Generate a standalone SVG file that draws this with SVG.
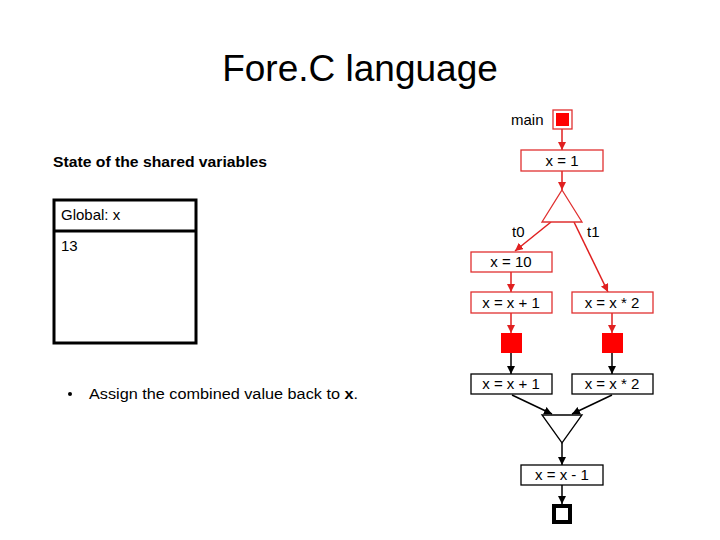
<svg xmlns="http://www.w3.org/2000/svg" width="720" height="540" viewBox="0 0 720 540">
<defs>
<marker id="ar" viewBox="0 0 10 10" refX="10" refY="5" markerWidth="8" markerHeight="8" markerUnits="userSpaceOnUse" orient="auto"><path d="M0,0 L10,5 L0,10 z" fill="#e02020"/></marker>
<marker id="ab" viewBox="0 0 10 10" refX="10" refY="5" markerWidth="8" markerHeight="8" markerUnits="userSpaceOnUse" orient="auto"><path d="M0,0 L10,5 L0,10 z" fill="#000"/></marker>
<style>
.t{font-family:"Liberation Sans",Arial,sans-serif;fill:#000}
.rb{fill:#fff;stroke:#e03030;stroke-width:1.3}
.bb{fill:#fff;stroke:#000;stroke-width:1.3}
.lbl{font-family:"Liberation Sans",Arial,sans-serif;font-size:15px;fill:#000;text-anchor:middle}
.re{stroke:#e02020;stroke-width:1.5;fill:none}
.bl{stroke:#000;stroke-width:1.5;fill:none}
</style>
</defs>
<rect width="720" height="540" fill="#fff"/>
<text class="t" x="360" y="81" font-size="37" text-anchor="middle">Fore.C language</text>
<text class="t" x="53" y="167" font-size="15" font-weight="bold" textLength="214" lengthAdjust="spacingAndGlyphs">State of the shared variables</text>
<g id="state">
<rect x="54" y="200" width="142" height="143" fill="#fff" stroke="#000" stroke-width="3"/>
<line x1="54" y1="231" x2="196" y2="231" stroke="#000" stroke-width="3"/>
<text class="t" x="61" y="220" font-size="15">Global: x</text>
<text class="t" x="61" y="251" font-size="15">13</text>
</g>
<circle cx="70" cy="394" r="2" fill="#000"/>
<text class="t" x="89" y="399" font-size="15.5" textLength="269" lengthAdjust="spacingAndGlyphs">Assign the combined value back to <tspan font-weight="bold">x</tspan>.</text>

<g id="connectors">
<line class="re" x1="562" y1="129" x2="562" y2="150" marker-end="url(#ar)"/>
<line class="re" x1="562" y1="171" x2="562" y2="190" marker-end="url(#ar)"/>
<line class="re" x1="551" y1="222" x2="515" y2="251" marker-end="url(#ar)"/>
<line class="re" x1="574" y1="222" x2="608" y2="292" marker-end="url(#ar)"/>
<line class="re" x1="511" y1="272" x2="511" y2="292" marker-end="url(#ar)"/>
<line class="re" x1="511" y1="313" x2="511" y2="333" marker-end="url(#ar)"/>
<line class="re" x1="612" y1="313" x2="612" y2="333" marker-end="url(#ar)"/>
<line class="bl" x1="511" y1="353" x2="511" y2="374" marker-end="url(#ab)"/>
<line class="bl" x1="612" y1="353" x2="612" y2="374" marker-end="url(#ab)"/>
<line class="bl" x1="512" y1="395" x2="552" y2="414" marker-end="url(#ab)"/>
<line class="bl" x1="612" y1="395" x2="572" y2="414" marker-end="url(#ab)"/>
<line class="bl" x1="562" y1="443" x2="562" y2="465" marker-end="url(#ab)"/>
<line class="bl" x1="562" y1="485" x2="562" y2="504" marker-end="url(#ab)"/>
</g>

<g id="main">
<text class="t" x="511" y="125" font-size="15">main</text>
<rect x="553" y="110" width="19" height="19" fill="#fff" stroke="#e03030" stroke-width="1.3"/>
<rect x="556" y="113" width="13" height="13" fill="#ff0000"/>
</g>
<g id="x1"><rect class="rb" x="521" y="150" width="82" height="21"/><text class="lbl" x="562" y="166">x = 1</text></g>
<g id="fork"><polygon points="562,190 582,222 542,222" fill="#fff" stroke="#e03030" stroke-width="1.3"/>
<text class="t" x="512" y="237" font-size="15">t0</text><text class="t" x="587" y="237" font-size="15">t1</text></g>
<g id="x10"><rect class="rb" x="471" y="252" width="81" height="20"/><text class="lbl" x="511" y="267">x = 10</text></g>
<g id="xp1"><rect class="rb" x="471" y="292" width="81" height="21"/><text class="lbl" x="511" y="308">x = x + 1</text></g>
<g id="xm2"><rect class="rb" x="572" y="292" width="81" height="21"/><text class="lbl" x="612" y="308">x = x * 2</text></g>
<g id="sq0"><rect x="501" y="333" width="21" height="20" fill="#ff0000"/></g>
<g id="sq1"><rect x="602" y="333" width="21" height="20" fill="#ff0000"/></g>
<g id="xp1b"><rect class="bb" x="471" y="374" width="81" height="20"/><text class="lbl" x="511" y="389">x = x + 1</text></g>
<g id="xm2b"><rect class="bb" x="572" y="374" width="81" height="20"/><text class="lbl" x="612" y="389">x = x * 2</text></g>
<g id="join"><polygon points="542,415 582,415 562,443" fill="#fff" stroke="#000" stroke-width="1.3"/></g>
<g id="xm1"><rect class="bb" x="521" y="465" width="82" height="20"/><text class="lbl" x="562" y="480">x = x - 1</text></g>
<g id="end"><rect x="554" y="506" width="16" height="16" fill="#fff" stroke="#000" stroke-width="4"/></g>
</svg>
